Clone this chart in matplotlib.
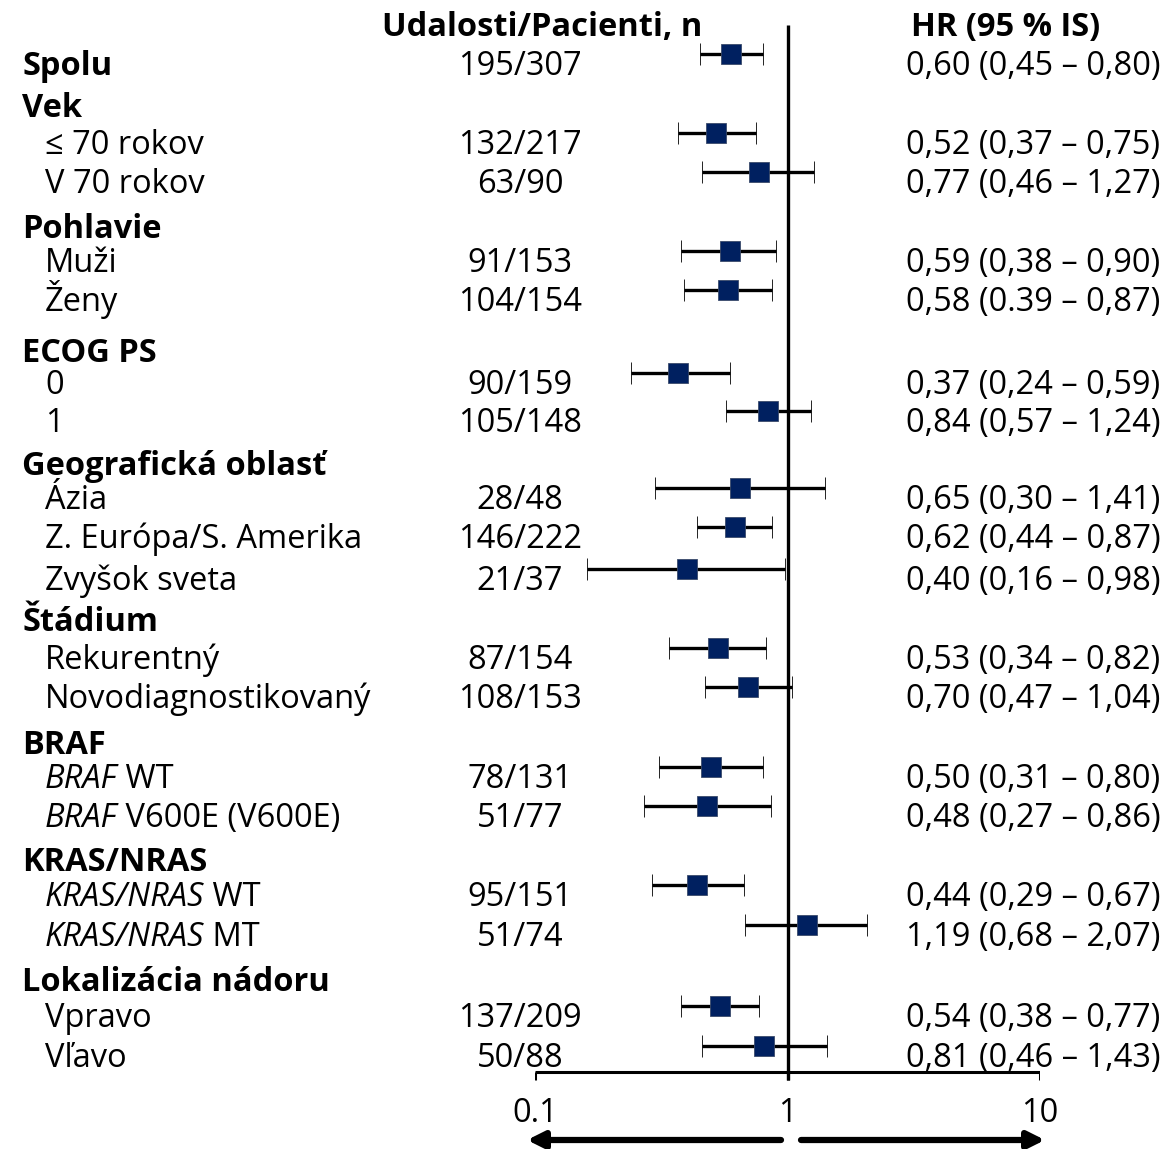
import numpy as np
import matplotlib
matplotlib.use('Agg')
import matplotlib.pyplot as plt

plt.rcParams['font.family'] = ['Open Sans', 'DejaVu Sans']

# Rows of the forest plot (headers have no numbers)
labels = ['Spolu', 'Vek', '≤ 70 rokov', 'V 70 rokov', 'Pohlavie', 'Muži', 'Ženy',
          'ECOG PS', '0', '1', 'Geografická oblasť', 'Ázia', 'Z. Európa/S. Amerika',
          'Zvyšok sveta', 'Štádium', 'Rekurentný', 'Novodiagnostikovaný', 'BRAF',
          'BRAF WT', 'BRAF V600E (V600E)', 'KRAS/NRAS', 'KRAS/NRAS WT', 'KRAS/NRAS MT',
          'Lokalizácia nádoru', 'Vpravo', 'Vľavo']
is_header = [True, True, False, False, True, False, False,
             True, False, False, True, False, False,
             False, True, False, False, True,
             False, False, True, False, False,
             True, False, False]
italic_part = ['', '', '', '', '', '', '',
               '', '', '', '', '', '',
               '', '', '', '', '',
               'BRAF', 'BRAF', '', 'KRAS/NRAS', 'KRAS/NRAS',
               '', '', '']
events = ['195/307', '', '132/217', '63/90', '', '91/153', '104/154',
          '', '90/159', '105/148', '', '28/48', '146/222',
          '21/37', '', '87/154', '108/153', '',
          '78/131', '51/77', '', '95/151', '51/74',
          '', '137/209', '50/88']
hr = [0.60, np.nan, 0.52, 0.77, np.nan, 0.59, 0.58,
      np.nan, 0.37, 0.84, np.nan, 0.65, 0.62,
      0.40, np.nan, 0.53, 0.70, np.nan,
      0.50, 0.48, np.nan, 0.44, 1.19,
      np.nan, 0.54, 0.81]
ci_lo = [0.45, np.nan, 0.37, 0.46, np.nan, 0.38, 0.39,
         np.nan, 0.24, 0.57, np.nan, 0.30, 0.44,
         0.16, np.nan, 0.34, 0.47, np.nan,
         0.31, 0.27, np.nan, 0.29, 0.68,
         np.nan, 0.38, 0.46]
ci_hi = [0.80, np.nan, 0.75, 1.27, np.nan, 0.90, 0.87,
         np.nan, 0.59, 1.24, np.nan, 1.41, 0.87,
         0.98, np.nan, 0.82, 1.04, np.nan,
         0.80, 0.86, np.nan, 0.67, 2.07,
         np.nan, 0.77, 1.43]
hr_text = ['0,60 (0,45 – 0,80)', '', '0,52 (0,37 – 0,75)', '0,77 (0,46 – 1,27)', '',
           '0,59 (0,38 – 0,90)', '0,58 (0.39 – 0,87)', '', '0,37 (0,24 – 0,59)',
           '0,84 (0,57 – 1,24)', '', '0,65 (0,30 – 1,41)', '0,62 (0,44 – 0,87)',
           '0,40 (0,16 – 0,98)', '', '0,53 (0,34 – 0,82)', '0,70 (0,47 – 1,04)', '',
           '0,50 (0,31 – 0,80)', '0,48 (0,27 – 0,86)', '', '0,44 (0,29 – 0,67)',
           '1,19 (0,68 – 2,07)', '', '0,54 (0,38 – 0,77)', '0,81 (0,46 – 1,43)']
ticks = [0.1, 1, 10]
tick_labels = ['0.1', '1', '10']

# layout (pixel rows of the 1171x1149 canvas)
W, H = 1171, 1149
row_y = [63, 105, 142, 181, 226, 260, 299, 350, 382, 420, 463, 497, 536, 578,
         619, 657, 696, 742, 776, 815, 859, 894, 934, 979, 1015, 1055]
FS = 23.5
BL = 12  # baseline offset below the row centre
NAVY = '#002060'

fig = plt.figure(figsize=(W / 100, H / 100), dpi=100)
ax = fig.add_axes([0, 0, 1, 1])
ax.set_xlim(0, W)
ax.set_ylim(H, 0)
ax.axis('off')

fx = fig.add_axes([535 / W, 0, (1040 - 535) / W, 1])
fx.set_xscale('log')
fx.set_xlim(0.1, 10)
fx.set_ylim(H, 0)
fx.axis('off')

# column headers
ax.text(542, 24 + BL, 'Udalosti/Pacienti, n', ha='center', va='baseline', fontsize=FS,
        fontweight='bold')
ax.text(1006, 24 + BL, 'HR (95 % IS)', ha='center', va='baseline', fontsize=FS,
        fontweight='bold')

for i, lab in enumerate(labels):
    y = row_y[i] + BL
    if is_header[i]:
        ax.text(22, y, lab, ha='left', va='baseline', fontsize=FS, fontweight='bold')
    elif italic_part[i]:
        t = ax.text(45, y, italic_part[i], ha='left', va='baseline', fontsize=FS, style='italic')
        ax.annotate(lab[len(italic_part[i]):], xy=(1, 0), xycoords=t, ha='left', va='bottom',
                    fontsize=FS)
    else:
        ax.text(45, y, lab, ha='left', va='baseline', fontsize=FS)
    if events[i]:
        ax.text(520, y, events[i], ha='center', va='baseline', fontsize=FS)
        ax.text(1033, y, hr_text[i], ha='center', va='baseline', fontsize=FS)

# forest marks
hr_a = np.array(hr)
lo_a = np.array(ci_lo)
hi_a = np.array(ci_hi)
ok = ~np.isnan(hr_a)
ym = np.array(row_y)[ok] - 9
fx.errorbar(hr_a[ok], ym, xerr=[hr_a[ok] - lo_a[ok], hi_a[ok] - hr_a[ok]], fmt='s',
            ms=14.5, mfc=NAVY, mec='#3a4a6a', mew=0.6, ecolor='black', elinewidth=2.4,
            capsize=8, capthick=2.4, zorder=3)

# reference line and bottom axis
fx.vlines(1, 25, 1080, color='black', lw=2.4, zorder=2)
fx.hlines(1072, 0.1, 10, color='black', lw=2.2)
fx.vlines(ticks, 1072, 1080, color='black', lw=2.2)
for t, tl in zip(ticks, tick_labels):
    fx.text(t, 1110 + BL, tl, ha='center', va='baseline', fontsize=FS)

# direction arrows
arrow = dict(arrowstyle='-|>,head_length=1.0,head_width=0.5', lw=4.5, color='black',
             shrinkA=0, shrinkB=0)
ax.annotate('', xy=(527, 1140), xytext=(781, 1140), arrowprops=arrow)
ax.annotate('', xy=(1045, 1140), xytext=(801, 1140), arrowprops=arrow)

fig.savefig('out.png', dpi=100)
